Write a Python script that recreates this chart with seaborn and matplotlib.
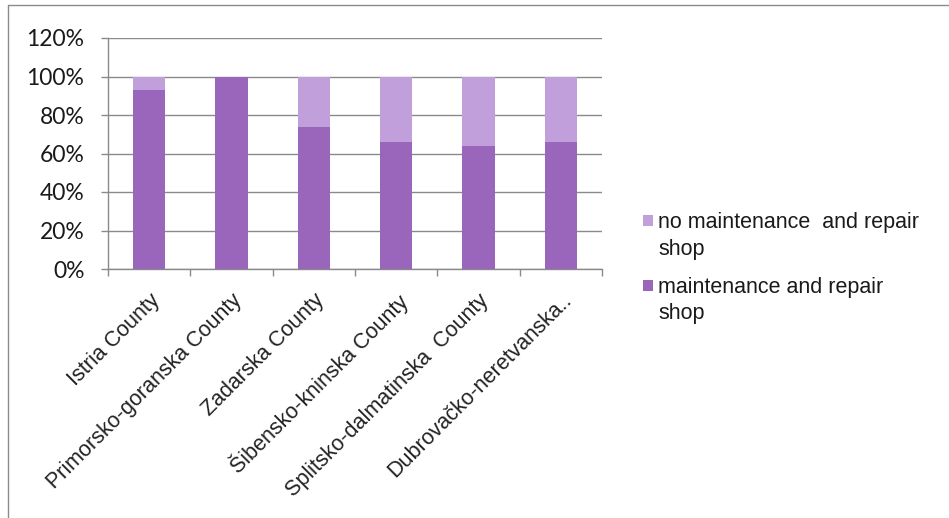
import matplotlib
matplotlib.use("Agg")
import matplotlib.pyplot as plt
import matplotlib.transforms as mtransforms
import seaborn as sns
import pandas as pd
import numpy as np
from matplotlib.patches import Patch, Rectangle
from matplotlib.lines import Line2D
from matplotlib.legend_handler import HandlerPatch
from matplotlib.ticker import FixedLocator

counties = ["Istria County", "Primorsko-goranska County", "Zadarska County",
            "Šibensko-kninska County", "Splitsko-dalmatinska  County",
            "Dubrovačko-neretvanska.."]
with_shop = [93, 100, 74, 66, 64, 66]
without_shop = [7, 0, 26, 34, 36, 34]
y_ticks = [0, 20, 40, 60, 80, 100, 120]

dark = "#9966bb"
light = "#c09fdb"
grid_c = "#8a8a8a"

sns.set_theme(style="white")
plt.rcParams["font.family"] = ["Liberation Sans", "DejaVu Sans"]

fig = plt.figure(figsize=(9.49, 5.18), dpi=100)
ax = fig.add_axes([108/949, 1-269/518, 494/949, (269-38)/518])

df = pd.DataFrame({"county": counties, "with": with_shop,
                   "total": np.array(with_shop) + np.array(without_shop)})
sns.barplot(data=df, x="county", y="total", color=light, width=0.39,
            saturation=1, ax=ax, zorder=3, linewidth=0)
sns.barplot(data=df, x="county", y="with", color=dark, width=0.39,
            saturation=1, ax=ax, zorder=4, linewidth=0)

ax.set_ylim(0, 120)
ax.set_xlim(-0.5, len(counties) - 0.5)
ax.set_yticks(y_ticks)
ax.set_yticklabels([f"{v}%" for v in y_ticks], fontsize=16.5,
                   color="#1a1a1a", family=["Lato", "DejaVu Sans"])
ax.yaxis.grid(True, color=grid_c, linewidth=1, zorder=0)
ax.set_axisbelow(True)
ax.set_xlabel("")
ax.set_ylabel("")
ax.set_xticks(range(len(counties)))
ax.set_xticklabels(counties, rotation=45, ha="right", va="top",
                   rotation_mode="anchor", fontsize=15.5, color="#222222")
shift = mtransforms.ScaledTranslation(-4/100, 2/100, fig.dpi_scale_trans)
for lab in ax.get_xticklabels():
    lab.set_transform(lab.get_transform() + shift)
ax.tick_params(axis="x", length=0, pad=15)
ax.xaxis.set_minor_locator(FixedLocator(np.arange(-0.5, len(counties), 1)))
ax.tick_params(axis="x", which="minor", length=5, color=grid_c, width=1,
               bottom=True)
ax.tick_params(axis="y", length=5, color=grid_c, width=1, left=True, pad=12)
for s in ["top", "right"]:
    ax.spines[s].set_visible(False)
for s in ["left", "bottom"]:
    ax.spines[s].set_color(grid_c)
    ax.spines[s].set_linewidth(1)


class TopHandler(HandlerPatch):
    def __init__(self, shift, **kw):
        super().__init__(**kw)
        self.shift = shift

    def create_artists(self, legend, orig_handle, xdescent, ydescent,
                       width, height, fontsize, trans):
        p = Rectangle((-xdescent, -ydescent + self.shift * fontsize),
                      width, height, facecolor=orig_handle.get_facecolor(),
                      edgecolor="none", transform=trans)
        return [p]


handles = [Patch(facecolor=light, edgecolor="none",
                 label="no maintenance  and repair\nshop"),
           Patch(facecolor=dark, edgecolor="none",
                 label="maintenance and repair\nshop")]
leg = fig.legend(handles=handles, loc="upper left",
                 bbox_to_anchor=(643/949, 1-212/518), frameon=False,
                 fontsize=15.5, handlelength=0.45, handleheight=0.42,
                 handletextpad=0.25, labelspacing=0.8, borderpad=0,
                 borderaxespad=0,
                 handler_map={Patch: TopHandler(shift=0.72)})
for t in leg.get_texts():
    t.set_linespacing(1.35)
    t.set_color("#1a1a1a")

fig.add_artist(Line2D([7.5/949, 7.5/949], [0, 1 - 5/518],
                      transform=fig.transFigure, color=grid_c, linewidth=1))
fig.add_artist(Line2D([7.5/949, 1], [1 - 5/518, 1 - 5/518],
                      transform=fig.transFigure, color=grid_c, linewidth=1))

fig.savefig("out.png", dpi=100)
